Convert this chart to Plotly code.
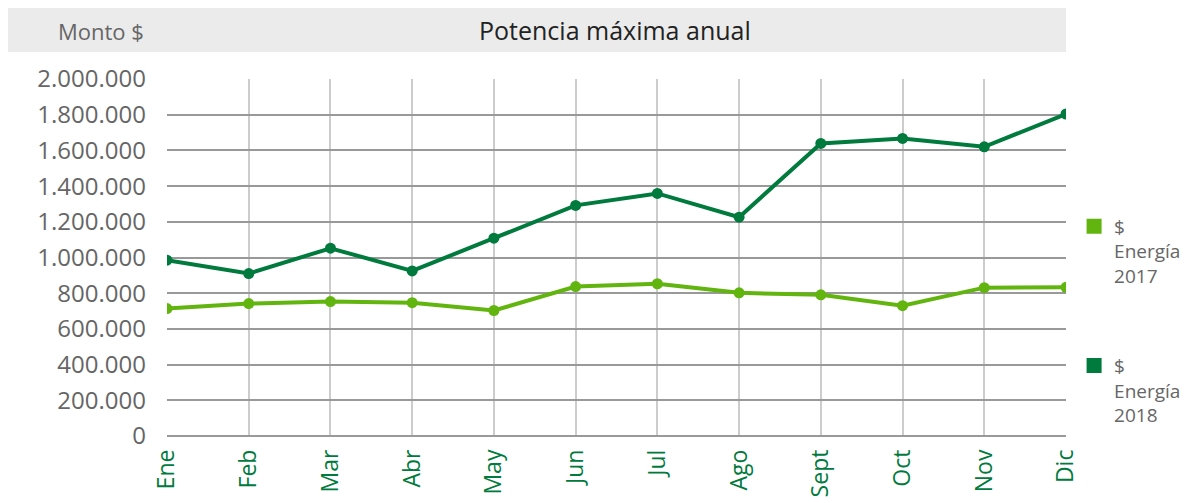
import plotly.graph_objects as go

months = ["Ene", "Feb", "Mar", "Abr", "May", "Jun", "Jul", "Ago", "Sept", "Oct", "Nov", "Dic"]
energia_2017 = [714000, 742000, 753000, 747000, 703000, 837000, 853000, 802000, 791000, 730000, 831000, 833000]
energia_2018 = [985000, 910000, 1052000, 925000, 1108000, 1292000, 1359000, 1226000, 1639000, 1667000, 1620000, 1804000]

LIGHT_GREEN = "#62b50f"
DARK_GREEN = "#007a3d"
FONT = "Open Sans"

fig = go.Figure()

for name, values, color in [
    ("$<br>Energía<br>2017", energia_2017, LIGHT_GREEN),
    ("$<br>Energía<br>2018", energia_2018, DARK_GREEN),
]:
    fig.add_trace(
        go.Scatter(
            x=months,
            y=values,
            mode="lines+markers",
            line=dict(color=color, width=4),
            marker=dict(color=color, size=11),
            showlegend=False,
        )
    )
    # square swatch for the legend only
    fig.add_trace(
        go.Scatter(
            x=[None],
            y=[None],
            mode="markers",
            name=name,
            legendgroup=name,
            marker=dict(color=color, symbol="square", size=15),
        )
    )

# grey header band
fig.add_shape(
    type="rect", xref="paper", yref="paper",
    x0=-0.178, x1=1.0, y0=1.0756, y1=1.199,
    fillcolor="#ebebeb", line_width=0, layer="below",
)
fig.add_annotation(
    text="Potencia máxima anual", xref="paper", yref="paper",
    x=0.498, y=1.137, xanchor="center", yanchor="middle", showarrow=False,
    font=dict(family=FONT, size=25, color="#222222"),
)
fig.add_annotation(
    text="Monto $", xref="paper", yref="paper",
    x=-0.0734, y=1.134, xanchor="center", yanchor="middle", showarrow=False,
    font=dict(family=FONT, size=22, color="#666666"),
)

fig.update_layout(
    width=1195,
    height=503,
    margin=dict(l=159, r=137, t=71, b=75),
    paper_bgcolor="white",
    plot_bgcolor="white",
    separators=",.",
    font=dict(family=FONT, color="#666666"),
    legend=dict(
        x=1.009, y=0.64, xanchor="left", yanchor="top",
        valign="top", tracegroupgap=62,
        font=dict(family=FONT, size=19, color="#666666"),
        itemwidth=30,
    ),
    xaxis=dict(
        range=[0, 11],
        tickangle=-90,
        tickfont=dict(family=FONT, size=23, color=DARK_GREEN),
        showgrid=True,
        gridcolor="#cccccc",
        gridwidth=1.5,
        showline=False,
        zeroline=False,
        automargin=False,
        ticks="",
        ticklabelstandoff=8,
    ),
    yaxis=dict(
        range=[0, 2000000],
        dtick=200000,
        tickformat=",d",
        tickfont=dict(family=FONT, size=24, color="#666666"),
        showgrid=True,
        gridcolor="#999999",
        gridwidth=1.5,
        zeroline=True,
        zerolinecolor="#999999",
        zerolinewidth=1.5,
        automargin=False,
        ticks="",
        ticklabelstandoff=20,
    ),
)

fig.write_html("out.html")
